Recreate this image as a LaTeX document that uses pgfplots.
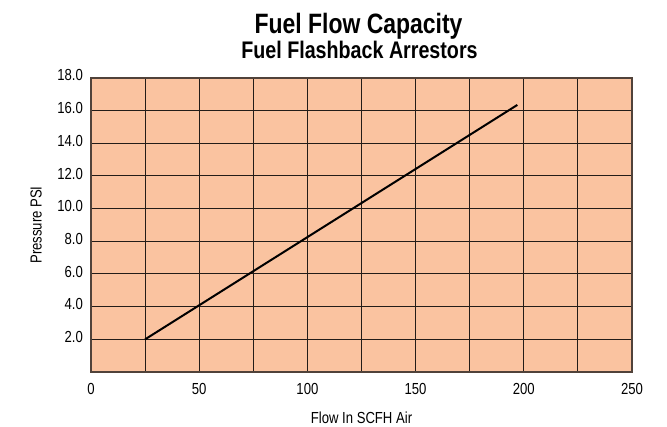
\documentclass[border=0pt]{standalone}
\usepackage{fontspec}
\setmainfont{Liberation Sans}[FakeStretch=0.82]
\usepackage{pgfplots}
\pgfplotsset{compat=1.18}
\definecolor{plotbg}{RGB}{250,195,160}
\definecolor{gridc}{RGB}{35,28,24}
\definecolor{framec}{RGB}{80,66,58}
\begin{document}
\begin{tikzpicture}[x=1pt,y=1pt]
  \useasboundingbox (0,0) rectangle (667,427);
  \begin{axis}[
      at={(91pt,55pt)}, anchor=south west,
      scale only axis, width=541pt, height=294pt,
      xmin=0, xmax=250, ymin=0, ymax=18,
      xtick={0,50,...,250}, minor xtick={25,75,...,225},
      ytick={2,4,...,18},
      grid=both,
      major grid style={gridc, line width=1pt},
      minor grid style={gridc, line width=1pt},
      major tick length=0pt, minor tick length=0pt,
      axis background/.style={fill=plotbg},
      axis line style={framec, line width=1.5pt},
      /pgf/number format/assume math mode=true,
      tick label style={font=\fontsize{16}{18}\selectfont},
      x tick label style={anchor=base, yshift=-23pt},
      y tick label style={anchor=east, inner sep=0pt, xshift=-8pt, yshift=2.5pt,
        /pgf/number format/.cd, fixed, fixed zerofill, precision=1, /tikz/.cd},
      xlabel={Flow In SCFH Air},
      xlabel style={at={(axis description cs:0.5,0)}, anchor=base, inner sep=0pt,
        yshift=-52pt, font=\fontsize{16}{18}\selectfont},
      ylabel={Pressure PSI},
      every axis y label/.style={at={(axis description cs:0,0.5)}, rotate=90,
        anchor=center, yshift=55pt, font=\fontsize{16}{18}\selectfont},
    ]
    % flow vs pressure
    \addplot[black, line width=2pt] coordinates {(25,2.0) (197,16.35)};
  \end{axis}
  \node[anchor=base, font=\bfseries\fontsize{28}{30}\selectfont] at (358.5,393.7) {Fuel Flow Capacity};
  \node[anchor=base, font=\bfseries\fontsize{24}{26}\selectfont] at (359.5,368.7) {Fuel Flashback Arrestors};
\end{tikzpicture}
\end{document}
